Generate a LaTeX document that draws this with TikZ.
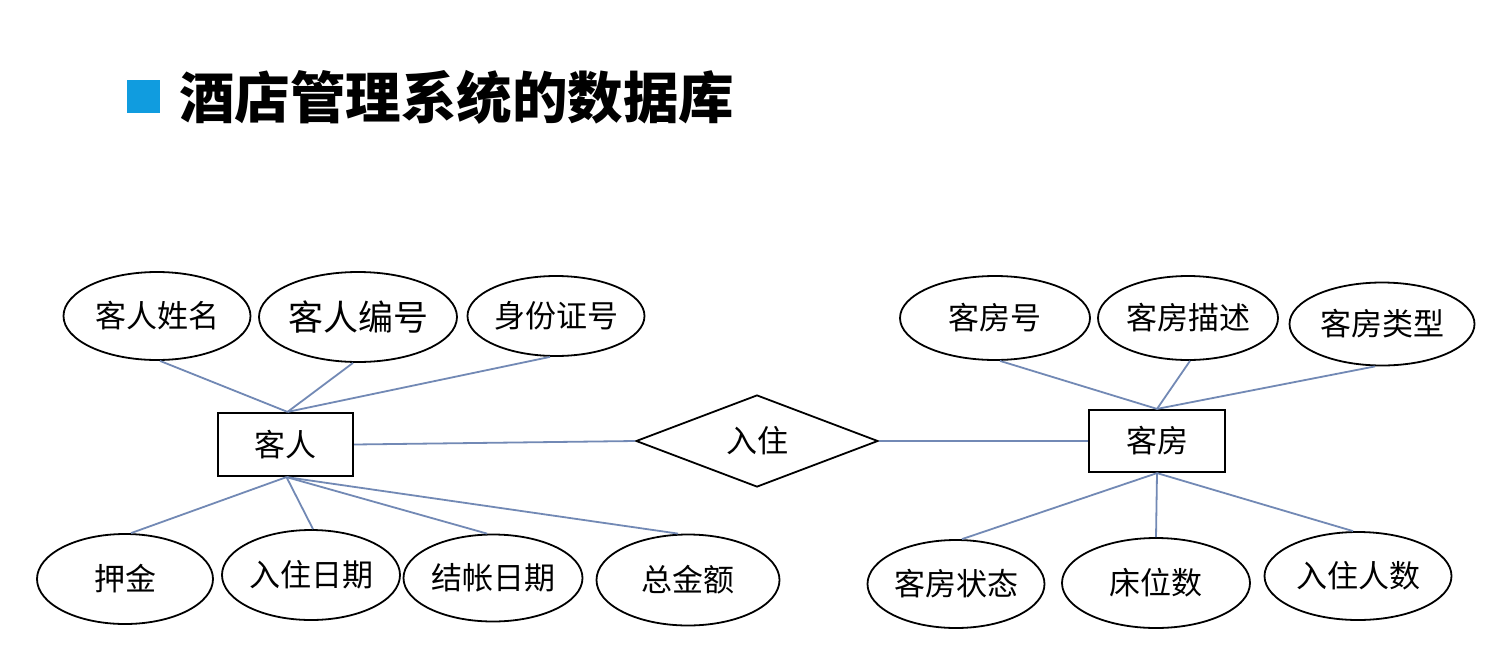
\documentclass[tikz,border=0pt]{standalone}
\usepackage{fontspec}
\usetikzlibrary{shapes.geometric}
\newfontfamily\cjk{Noto Sans CJK SC}
\definecolor{linkc}{HTML}{7289B5}
\definecolor{titleblue}{HTML}{109CDF}
\tikzset{
  attr/.style={draw=black, line width=1.8pt, ellipse, inner sep=0pt, font=\cjk\fontsize{31}{31}\selectfont},
  entity/.style={draw=black, line width=2.2pt, rectangle, inner sep=0pt, font=\cjk\fontsize{31}{31}\selectfont},
  rel/.style={draw=black, line width=1.8pt, diamond, inner sep=0pt, aspect=2.6, font=\cjk\fontsize{31}{31}\selectfont},
  link/.style={draw=linkc, line width=1.8pt}
}
\begin{document}
\begin{tikzpicture}[x=1pt,y=-1pt]
\useasboundingbox (0,0) rectangle (1498,664);
\fill[white] (0,0) rectangle (1498,664);
% title
\node[fill=titleblue, minimum width=33pt, minimum height=33pt, inner sep=0pt] (sq) at (143.5,96.5) {};
\node[anchor=west, inner sep=0pt, font=\cjk\bfseries\fontsize{55.5}{55.5}\selectfont] (title) at (179,97) {酒店管理系统的数据库};
% entities
\node[entity, minimum width=135pt, minimum height=63pt] (kr) at (285.5,444.5) {客人};
\node[entity, minimum width=136pt, minimum height=62pt] (kf) at (1157,441) {客房};
\node[rel, minimum width=242pt, minimum height=92pt] (rz) at (757,441) {入住};
% guest attributes
\node[attr, minimum width=187pt, minimum height=88pt] (a1) at (157,316) {客人姓名};
\node[attr, minimum width=193pt, minimum height=90pt, font=\cjk\fontsize{35}{35}\selectfont] (a2) at (358,317) {客人编号};
\node[attr, minimum width=177pt, minimum height=80pt] (a3) at (556,316) {身份证号};
\node[attr, minimum width=176pt, minimum height=90pt] (b1) at (125,579) {押金};
\node[attr, minimum width=178pt, minimum height=90pt] (b2) at (311,575) {入住日期};
\node[attr, minimum width=179pt, minimum height=87pt] (b3) at (493,578) {结帐日期};
\node[attr, minimum width=183pt, minimum height=91pt] (b4) at (688,580) {总金额};
% room attributes
\node[attr, minimum width=190pt, minimum height=84pt] (c1) at (995,318) {客房号};
\node[attr, minimum width=180pt, minimum height=84pt] (c2) at (1188,318) {客房描述};
\node[attr, minimum width=185pt, minimum height=83pt] (c3) at (1382,324) {客房类型};
\node[attr, minimum width=177pt, minimum height=88pt] (d1) at (956,584) {客房状态};
\node[attr, minimum width=188pt, minimum height=90pt] (d2) at (1156,583) {床位数};
\node[attr, minimum width=187pt, minimum height=88pt] (d3) at (1358,576) {入住人数};
% connector anchor points
\coordinate (krt) at ([xshift=2pt]kr.north);
\coordinate (krb) at ([xshift=1pt]kr.south);
\coordinate (kft) at (kf.north);
\coordinate (kfb) at (kf.south);
% connectors
\draw[link] ([xshift=3pt]a1.south) -- (krt);
\draw[link] ([xshift=-5pt]a2.south) -- (krt);
\draw[link] ([xshift=-6pt]a3.south) -- (krt);
\draw[link] (krb) -- ([xshift=6pt]b1.north);
\draw[link] (krb) -- ([xshift=2pt]b2.north);
\draw[link] (krb) -- ([xshift=-6pt]b3.north);
\draw[link] (krb) -- ([xshift=-10pt]b4.north);
\draw[link] (kr.east) -- (rz.west);
\draw[link] (rz.east) -- (kf.west);
\draw[link] ([xshift=5pt]c1.south) -- (kft);
\draw[link] ([xshift=2pt]c2.south) -- (kft);
\draw[link] ([xshift=-7pt]c3.south) -- (kft);
\draw[link] (kfb) -- ([xshift=6pt]d1.north);
\draw[link] (kfb) -- (d2.north);
\draw[link] (kfb) -- ([xshift=-5pt]d3.north);
\end{tikzpicture}
\end{document}
